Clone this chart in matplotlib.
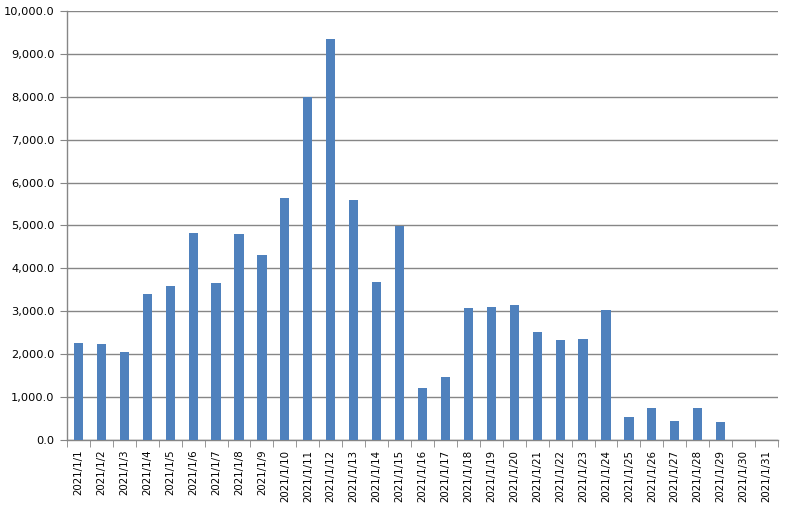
import matplotlib
matplotlib.use("Agg")
import matplotlib.pyplot as plt
import numpy as np
from matplotlib.ticker import FuncFormatter, FixedLocator

dates = ["2021/1/%d" % d for d in range(1, 32)]
values = [2260, 2240, 2050, 3400, 3590, 4825, 3660, 4800, 4310, 5640,
          7990, 9350, 5595, 3680, 4980, 1210, 1470, 3080, 3100, 3150,
          2520, 2330, 2350, 3030, 540, 750, 440, 750, 420, 0, 0]
y_ticks = np.arange(0, 10001, 1000)

grid_color = "#868686"
bar_color = "#4F81BD"

fig = plt.figure(figsize=(7.89, 5.16), dpi=100)
ax = fig.add_axes([67 / 789, 1 - 440 / 516, (778 - 67) / 789, (440 - 11) / 516])

x = np.arange(len(dates))
ax.bar(x, values, width=0.4, color=bar_color, zorder=3)

ax.set_xlim(-0.5, len(dates) - 0.5)
ax.set_ylim(0, 10000)
ax.set_yticks(y_ticks)
ax.yaxis.set_major_formatter(FuncFormatter(lambda v, p: "{:,.1f}".format(v)))
ax.grid(axis="y", color=grid_color, linewidth=1, zorder=0)

ax.set_xticks(x)
ax.set_xticklabels(dates, rotation=90)
ax.xaxis.set_minor_locator(FixedLocator(np.arange(-0.5, len(dates), 1.0)))
ax.tick_params(axis="x", which="major", length=0, pad=7, labelsize=7.4, colors="black")
ax.tick_params(axis="x", which="minor", length=5, color=grid_color, direction="out")
ax.tick_params(axis="y", length=5, color=grid_color, labelsize=8.2, pad=4)

for side in ["top", "right"]:
    ax.spines[side].set_visible(False)
for side in ["left", "bottom"]:
    ax.spines[side].set_color(grid_color)
    ax.spines[side].set_linewidth(1)

fig.savefig("out.png", dpi=100)
